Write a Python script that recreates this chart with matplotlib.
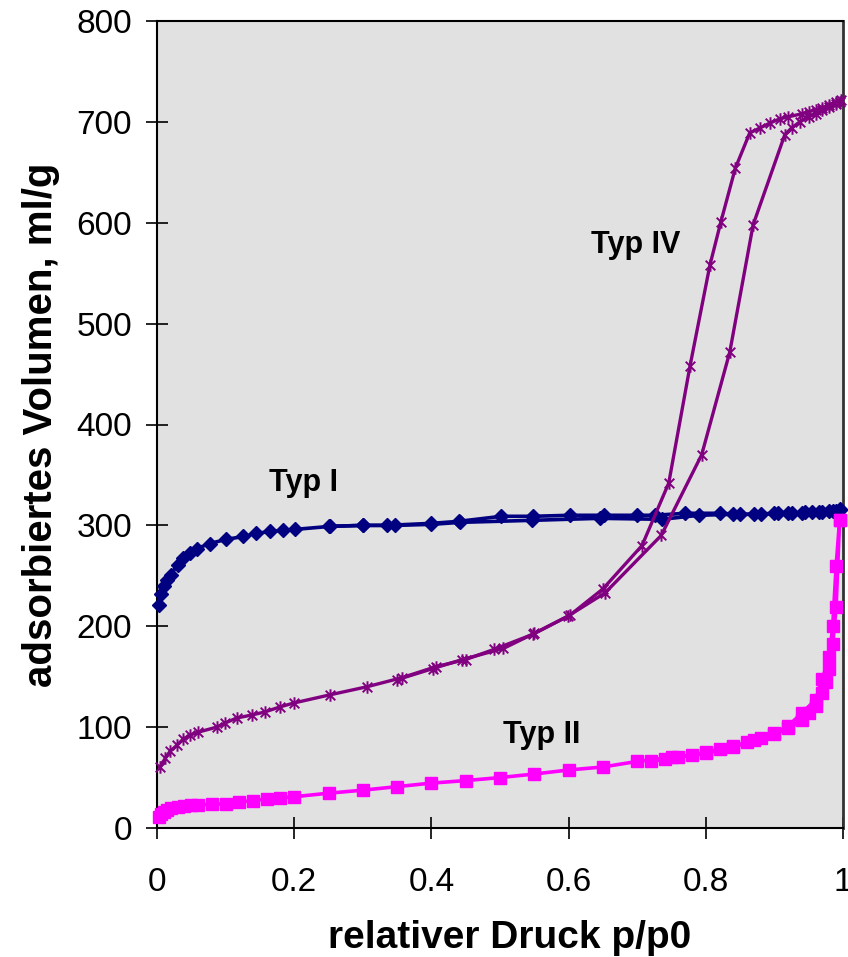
import matplotlib
matplotlib.use("Agg")
import matplotlib.pyplot as plt
from matplotlib.path import Path

plt.rcParams['font.family'] = ['Liberation Sans', 'DejaVu Sans']

# ---- data ----
typ1_ads_x = [0.003, 0.006, 0.01, 0.015, 0.02, 0.03, 0.038, 0.048, 0.058, 0.077, 0.10, 0.126, 0.145, 0.165,
              0.184, 0.201, 0.252, 0.30, 0.347, 0.40, 0.442, 0.547, 0.646, 0.736, 0.79, 0.84, 0.87, 0.9,
              0.92, 0.94, 0.955, 0.97, 0.98, 0.99, 0.995]
typ1_ads_y = [221, 232, 240, 246, 251, 261, 268, 273, 277, 282, 286, 289, 292, 294,
              295, 296, 299, 300, 300, 301, 303, 305, 307, 306, 310, 311, 311, 312,
              312, 312, 313, 313, 314, 314, 315]
typ1_des_x = [0.995, 0.985, 0.965, 0.945, 0.925, 0.905, 0.88, 0.85, 0.82, 0.77, 0.726, 0.70, 0.651,
              0.602, 0.548, 0.502, 0.44, 0.40, 0.335, 0.30, 0.25]
typ1_des_y = [316, 314, 313, 313, 312, 312, 311, 311, 312, 312, 310, 310, 310,
              310, 309, 309, 304, 302, 300, 300, 299]

typ4_ads_x = [0.004, 0.012, 0.019, 0.029, 0.038, 0.048, 0.06, 0.087, 0.099, 0.116, 0.138, 0.157, 0.179,
              0.20, 0.252, 0.306, 0.357, 0.407, 0.45, 0.491, 0.548, 0.599, 0.653, 0.735, 0.794, 0.835,
              0.869, 0.915, 0.925, 0.937, 0.95, 0.96, 0.97, 0.98, 0.99, 0.995]
typ4_ads_y = [60, 69, 76, 82, 88, 92, 95, 100, 104, 109, 112, 115, 120,
              124, 132, 140, 149, 160, 167, 177, 192, 210, 233, 290, 370, 472,
              598, 687, 694, 700, 705, 708, 712, 715, 718, 720]
typ4_des_x = [0.997, 0.99, 0.98, 0.97, 0.96, 0.95, 0.94, 0.92, 0.908, 0.894, 0.879, 0.864, 0.843,
              0.822, 0.806, 0.777, 0.746, 0.707, 0.65, 0.602, 0.55, 0.505, 0.445, 0.402, 0.35]
typ4_des_y = [722, 720, 717, 714, 712, 710, 708, 705, 703, 699, 694, 689, 654,
              601, 558, 458, 342, 280, 237, 211, 193, 178, 167, 158, 147]

typ2_ads_x = [0.003, 0.006, 0.01, 0.015, 0.02, 0.03, 0.04, 0.05, 0.06, 0.08, 0.1, 0.12, 0.14, 0.16,
              0.18, 0.2, 0.25, 0.3, 0.35, 0.4, 0.45, 0.5, 0.55, 0.6, 0.65, 0.7, 0.75, 0.8, 0.84,
              0.87, 0.9, 0.92, 0.94, 0.96, 0.97, 0.98, 0.985, 0.99, 0.995]
typ2_ads_y = [11, 14, 16, 18, 19.5, 21, 22, 22.5, 23, 23.5, 24, 26, 27, 29,
              30, 31, 34.5, 37.5, 41, 44.5, 47, 50, 53.5, 57.5, 60.5, 66, 70, 74, 80,
              87, 94, 101, 114, 127, 148, 170, 200, 260, 305]
typ2_des_x = [0.995, 0.99, 0.985, 0.98, 0.975, 0.97, 0.96, 0.95, 0.94, 0.92, 0.9, 0.88, 0.86, 0.84,
              0.82, 0.8, 0.78, 0.76, 0.74, 0.72]
typ2_des_y = [305, 219, 182, 158, 145, 134, 121, 114, 107, 99, 93, 89, 85, 81,
              78, 75, 72, 70, 68, 66]

x_ticks = [0, 0.2, 0.4, 0.6, 0.8, 1]
x_ticklabels = ['0', '0.2', '0.4', '0.6', '0.8', '1']
y_ticks = [0, 100, 200, 300, 400, 500, 600, 700, 800]

labels = ['Typ I', 'Typ IV', 'Typ II']
label_x = [0.214, 0.698, 0.561]
label_y = [342, 578, 92]

# ---- figure ----
W, H = 848, 957
fig = plt.figure(figsize=(W / 100, H / 100), dpi=100)
ax = fig.add_axes([157 / W, 1 - 828 / H, (843 - 157) / W, (828 - 21) / H])
ax.set_facecolor('#e1e1e1')

navy = '#000080'
purple = '#800080'
magenta = '#ff00ff'

star = Path([(-1, -1), (1, 1), (-1, 1), (1, -1), (0, -1.3), (0, 1.3)],
            [Path.MOVETO, Path.LINETO, Path.MOVETO, Path.LINETO, Path.MOVETO, Path.LINETO])

for xs, ys in [(typ1_ads_x, typ1_ads_y), (typ1_des_x, typ1_des_y)]:
    ax.plot(xs, ys, color=navy, lw=2.6, marker='D', ms=7.5, mfc=navy, mec=navy, clip_on=False, zorder=3)

for xs, ys in [(typ4_ads_x, typ4_ads_y), (typ4_des_x, typ4_des_y)]:
    ax.plot(xs, ys, color=purple, lw=2.4, marker=star, ms=9, mfc='none', mec=purple, mew=1.4,
            clip_on=False, zorder=3)

for xs, ys in [(typ2_ads_x, typ2_ads_y), (typ2_des_x, typ2_des_y)]:
    ax.plot(xs, ys, color=magenta, lw=2.6, marker='s', ms=8.5, mfc=magenta, mec=magenta, clip_on=False, zorder=3)

for t, lx, ly in zip(labels, label_x, label_y):
    ax.text(lx, ly, t, fontsize=22, fontweight='bold', ha='center', va='center', color='black')

ax.set_xlim(0, 1)
ax.set_ylim(0, 800)
ax.set_xticks(x_ticks)
ax.set_xticklabels(x_ticklabels)
ax.set_yticks(y_ticks)
ax.tick_params(direction='inout', length=16, width=1.2, labelsize=24, colors='black')
ax.tick_params(axis='x', pad=20)
ax.tick_params(axis='y', pad=10)

for s in ['left', 'bottom', 'top']:
    ax.spines[s].set_color('black')
    ax.spines[s].set_linewidth(1.5)
ax.spines['right'].set_color('#333333')
ax.spines['right'].set_linewidth(2)

ax.set_xlabel('relativer Druck p/p0', fontsize=28, fontweight='bold')
ax.xaxis.label.set_va('center')
ax.xaxis.set_label_coords((510 - 157) / (843 - 157), -(938 - 828) / (828 - 21))
ax.set_ylabel('adsorbiertes Volumen, ml/g', fontsize=29, fontweight='bold', labelpad=12)

fig.savefig('out.png', dpi=100)
